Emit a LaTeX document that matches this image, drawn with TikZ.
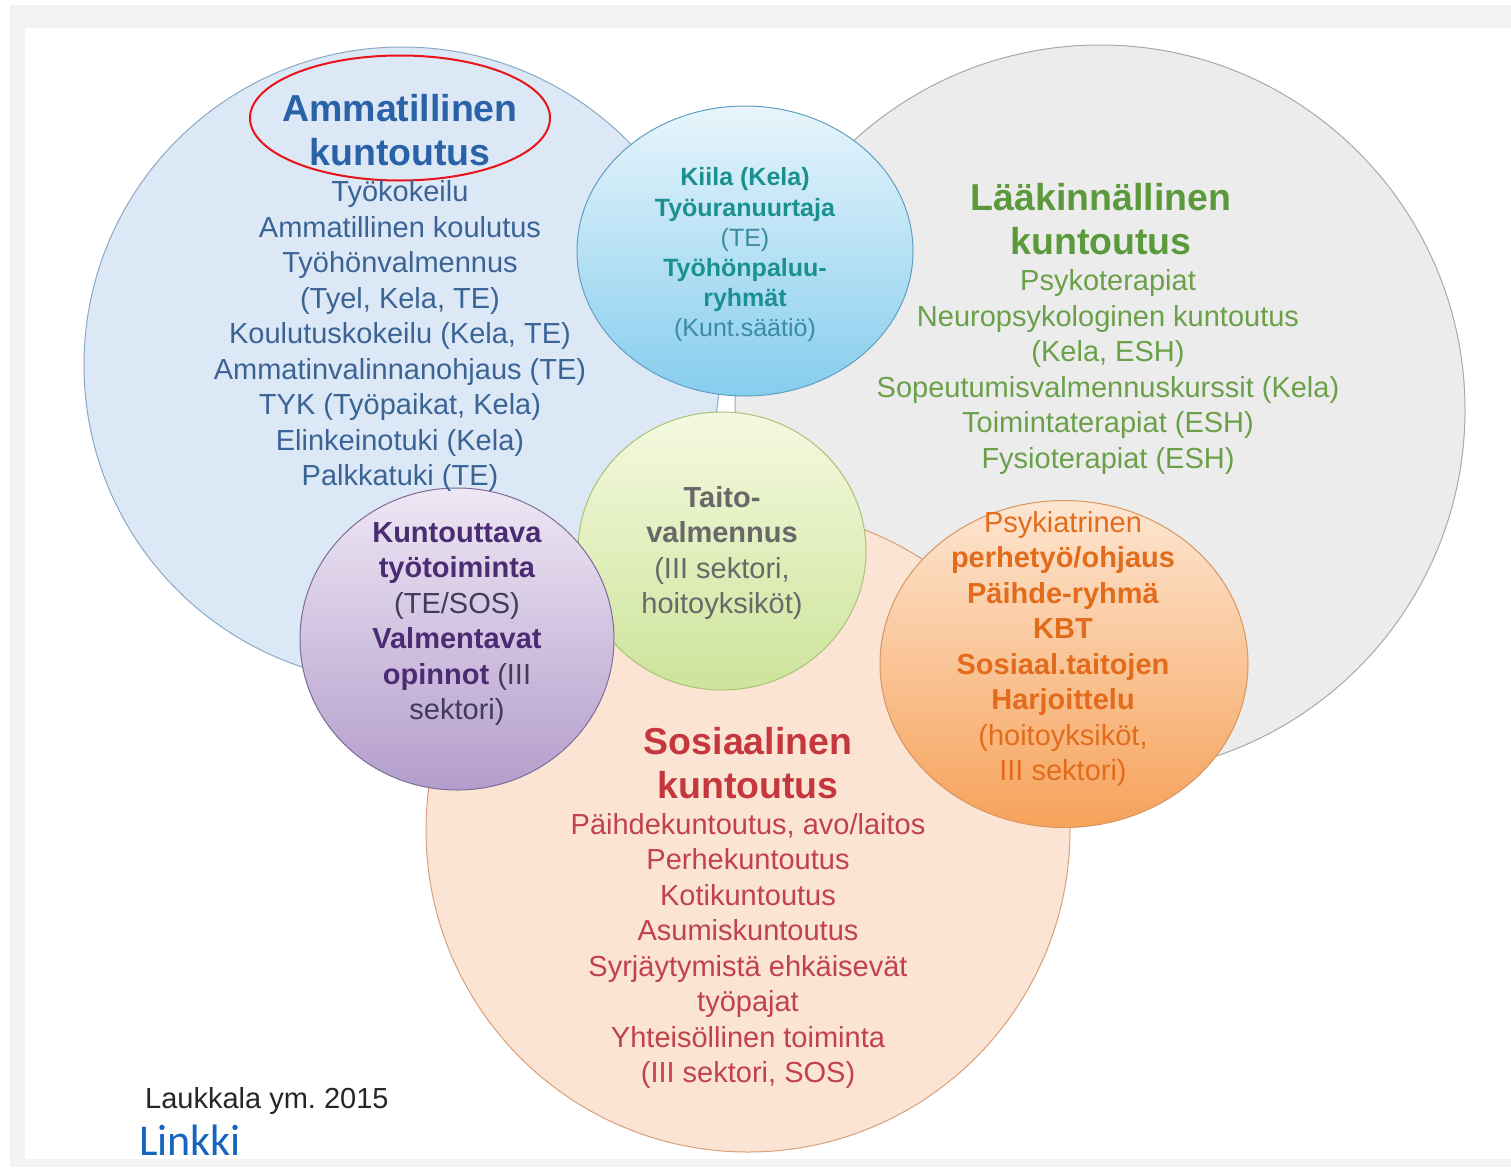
\documentclass[tikz,border=0pt]{standalone}
\usepackage{fontspec}
\setmainfont{Liberation Sans}
\newfontfamily\linkfont{Carlito}
\usetikzlibrary{shapes.geometric}
\frenchspacing

\definecolor{frame}{HTML}{F3F3F3}
% circle fills and outlines
\definecolor{blueFill}{HTML}{DCE8F5}
\definecolor{blueLine}{HTML}{8AA9C6}
\definecolor{grayFill}{HTML}{ECECEC}
\definecolor{grayLine}{HTML}{A9A9A9}
\definecolor{peachFill}{HTML}{FCE4D4}
\definecolor{peachLine}{HTML}{D8A07A}
\definecolor{cyanTop}{HTML}{E8F5FB}
\definecolor{cyanBot}{HTML}{86CDEE}
\definecolor{cyanLine}{HTML}{5F9FC2}
\definecolor{greenTop}{HTML}{F5F9E0}
\definecolor{greenBot}{HTML}{CDE49A}
\definecolor{greenLine}{HTML}{A9C277}
\definecolor{purpleTop}{HTML}{EEE7F4}
\definecolor{purpleBot}{HTML}{B49DCC}
\definecolor{purpleLine}{HTML}{7D6D96}
\definecolor{orangeTop}{HTML}{FDE6D2}
\definecolor{orangeBot}{HTML}{F6A25A}
\definecolor{orangeLine}{HTML}{D8955E}
\definecolor{mark}{HTML}{E8141A}
% text colours
\definecolor{blueHead}{HTML}{2A62A8}
\definecolor{blueText}{HTML}{3B6496}
\definecolor{greenHead}{HTML}{5B9A3C}
\definecolor{greenText}{HTML}{6BA04A}
\definecolor{tealText}{HTML}{1A9090}
\definecolor{tealSoft}{HTML}{3A8CA0}
\definecolor{grayText}{HTML}{686868}
\definecolor{purpleHead}{HTML}{4B2C73}
\definecolor{purpleText}{HTML}{413B5C}
\definecolor{orangeText}{HTML}{E36C1C}
\definecolor{redHead}{HTML}{C4373D}
\definecolor{redText}{HTML}{C0424A}
\definecolor{linkBlue}{HTML}{1565C0}

\tikzset{
  area/.style={ellipse, inner sep=0pt, line width=1pt},
  head/.style={align=center, inner sep=0pt, font=\fontsize{37.5}{44}\selectfont\bfseries},
  body/.style={align=center, inner sep=0pt, font=\fontsize{29}{35.5}\selectfont},
  small/.style={align=center, inner sep=0pt, font=\fontsize{25}{30.2}\selectfont},
}

\begin{document}
\begin{tikzpicture}[x=1pt, y=-1pt]
\useasboundingbox (0,0) rectangle (1511,1167);
% page frame
\fill[frame] (10,5) rectangle (1511,1167);
\fill[white] (25,28) rectangle (1511,1159);

% large circles
\node[area, fill=blueFill, draw=blueLine, minimum width=636pt, minimum height=636pt] (voc) at (402,365) {};
\node[area, fill=grayFill, draw=grayLine, minimum width=730pt, minimum height=730pt] (med) at (1100,410) {};
\node[area, fill=peachFill, draw=peachLine, minimum width=644pt, minimum height=644pt] (soc) at (748,830) {};

% small overlapping circles
\node[area, top color=cyanTop, bottom color=cyanBot, draw=cyanLine, minimum width=336pt, minimum height=290pt] (kiila) at (745,251) {};
\node[area, top color=greenTop, bottom color=greenBot, draw=greenLine, minimum width=288pt, minimum height=278pt] (taito) at (722,551) {};
\node[area, top color=purpleTop, bottom color=purpleBot, draw=purpleLine, minimum width=314pt, minimum height=302pt] (kunt) at (457,639) {};
\node[area, top color=orangeTop, bottom color=orangeBot, draw=orangeLine, minimum width=368pt, minimum height=327pt] (psyk) at (1064,664) {};

% highlight round the first heading
\node[ellipse, draw=mark, line width=2pt, inner sep=0pt, minimum width=300pt, minimum height=125pt] (ring) at (400,118) {};

% vocational rehabilitation
\node[head, text=blueHead] (vocH) at (400,130) {Ammatillinen\\kuntoutus};
\node[body, text=blueText] (vocB) at (400,336) {Työkokeilu\\Ammatillinen koulutus\\Työhönvalmennus\\(Tyel, Kela, TE)\\Koulutuskokeilu (Kela, TE)\\Ammatinvalinnanohjaus (TE)\\TYK (Työpaikat, Kela)\\Elinkeinotuki (Kela)\\Palkkatuki (TE)};

% medical rehabilitation
\node[head, text=greenHead] (medH) at (1101,219) {Lääkinnällinen\\kuntoutus};
\node[body, text=greenText] (medB) at (1108,372) {Psykoterapiat\\Neuropsykologinen kuntoutus\\(Kela, ESH)\\Sopeutumisvalmennuskurssit (Kela)\\Toimintaterapiat (ESH)\\Fysioterapiat (ESH)};

% social rehabilitation
\node[head, text=redHead] (socH) at (748,763) {Sosiaalinen\\kuntoutus};
\node[body, text=redText] (socB) at (748,951) {Päihdekuntoutus, avo/laitos\\Perhekuntoutus\\Kotikuntoutus\\Asumiskuntoutus\\Syrjäytymistä ehkäisevät\\työpajat\\Yhteisöllinen toiminta\\(III sektori, SOS)};

% overlap contents
\node[small, text=tealText] (kiilaT) at (745,255) {\textbf{Kiila (Kela)}\\\textbf{Työuranuurtaja}\\\textcolor{tealSoft}{(TE)}\\\textbf{Työhönpaluu-}\\\textbf{ryhmät}\\\textcolor{tealSoft}{(Kunt.säätiö)}};
\node[body, text=grayText] (taitoT) at (722,553) {\textbf{Taito-}\\\textbf{valmennus}\\(III sektori,\\hoitoyksiköt)};
\node[body, text=purpleText] (kuntT) at (457,624) {\textcolor{purpleHead}{\textbf{Kuntouttava}}\\\textcolor{purpleHead}{\textbf{työtoiminta}}\\(TE/SOS)\\\textcolor{purpleHead}{\textbf{Valmentavat}}\\\textcolor{purpleHead}{\textbf{opinnot}} (III\\sektori)};
\node[body, text=orangeText] (psykT) at (1063,649) {Psykiatrinen\\\textbf{perhetyö/ohjaus}\\\textbf{Päihde-ryhmä}\\\textbf{KBT}\\\textbf{Sosiaal.taitojen}\\\textbf{Harjoittelu}\\(hoitoyksiköt,\\III sektori)};

% source and link
\node[body, text=black!85, anchor=west] (src) at (145,1101) {Laukkala ym. 2015};
\node[inner sep=0pt, anchor=base west, text=linkBlue, font=\linkfont\fontsize{44}{50}\selectfont] (link) at (139,1155) {Linkki};
\end{tikzpicture}
\end{document}
